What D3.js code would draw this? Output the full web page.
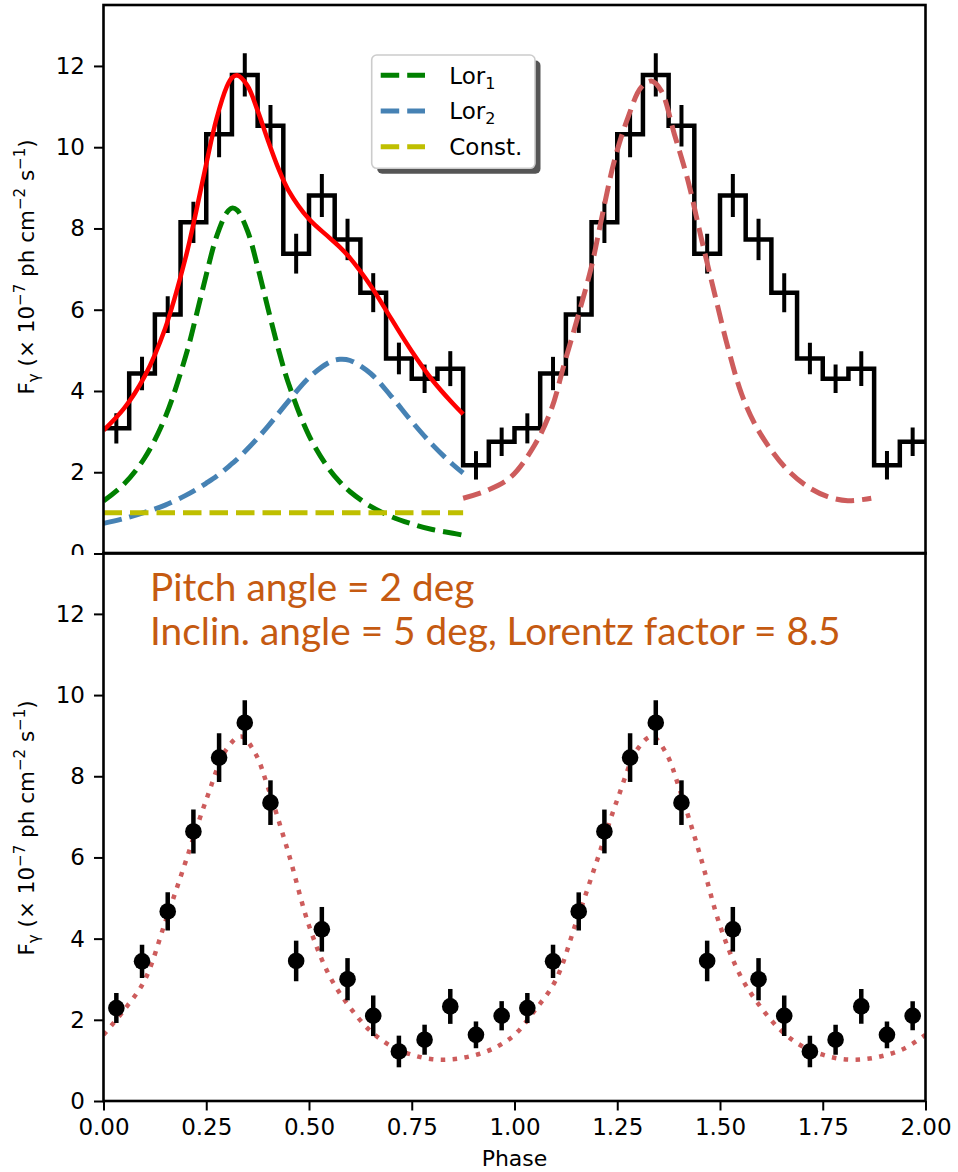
<!DOCTYPE html>
<html>
<head>
<meta charset="utf-8">
<script src="https://cdn.jsdelivr.net/npm/d3@7"></script>
<style>
  body { margin: 0; background: #fff; }
  svg text { font-family: "DejaVu Sans", sans-serif; fill: #000; }
</style>
</head>
<body>
<svg id="chart" width="958" height="1172"></svg>
<script>
// ---------- data ----------
// phase bins (16 per cycle, two cycles shown)
const binWidth = 0.0625;
const binCenters = [
  0.03125, 0.09375, 0.15625, 0.21875, 0.28125, 0.34375, 0.40625, 0.46875,
  0.53125, 0.59375, 0.65625, 0.71875, 0.78125, 0.84375, 0.90625, 0.96875,
  1.03125, 1.09375, 1.15625, 1.21875, 1.28125, 1.34375, 1.40625, 1.46875,
  1.53125, 1.59375, 1.65625, 1.71875, 1.78125, 1.84375, 1.90625, 1.96875
];
// observed light curve (upper panel)
const observedFlux = [
  3.08, 4.43, 5.88, 8.15, 10.32, 11.78, 10.53, 7.38, 8.81, 7.73, 6.42, 4.80, 4.30, 4.55, 2.17, 2.75,
  3.08, 4.43, 5.88, 8.15, 10.32, 11.78, 10.53, 7.38, 8.81, 7.73, 6.42, 4.80, 4.30, 4.55, 2.17, 2.75
];
const observedErr = [
  0.37, 0.41, 0.45, 0.51, 0.57, 0.53, 0.51, 0.49, 0.53, 0.51, 0.48, 0.39, 0.35, 0.43, 0.35, 0.35,
  0.37, 0.41, 0.45, 0.51, 0.57, 0.53, 0.51, 0.49, 0.53, 0.51, 0.48, 0.39, 0.35, 0.43, 0.35, 0.35
];
// simulated light curve (lower panel)
const simulatedFlux = [
  2.29, 3.44, 4.67, 6.64, 8.46, 9.32, 7.35, 3.45, 4.23, 3.00, 2.10, 1.22, 1.51, 2.33, 1.63, 2.10,
  2.29, 3.44, 4.67, 6.64, 8.46, 9.32, 7.35, 3.45, 4.23, 3.00, 2.10, 1.22, 1.51, 2.33, 1.63, 2.10
];
const simulatedErr = [
  0.37, 0.41, 0.47, 0.54, 0.60, 0.55, 0.55, 0.50, 0.55, 0.52, 0.50, 0.39, 0.37, 0.43, 0.33, 0.36,
  0.37, 0.41, 0.47, 0.54, 0.60, 0.55, 0.55, 0.50, 0.55, 0.52, 0.50, 0.39, 0.37, 0.43, 0.33, 0.36
];

// fit components over the first cycle
const fitPhase = [0, 0.05, 0.1, 0.15, 0.2, 0.225, 0.25, 0.275, 0.3, 0.3125, 0.325, 0.35, 0.375,
                  0.4, 0.425, 0.45, 0.5, 0.55, 0.575, 0.6, 0.65, 0.7, 0.75, 0.8, 0.85, 0.875];
const lor1Flux = [1.29, 1.71, 2.35, 3.35, 4.86, 5.83, 6.86, 7.80, 8.39, 8.50, 8.45, 7.95, 7.06,
                  6.04, 5.05, 4.19, 2.90, 2.06, 1.76, 1.52, 1.16, 0.91, 0.73, 0.59, 0.50, 0.45];
const lor2Flux = [0.74, 0.86, 1.01, 1.19, 1.43, 1.57, 1.73, 1.90, 2.10, 2.21, 2.32, 2.57, 2.84,
                  3.13, 3.44, 3.75, 4.33, 4.71, 4.78, 4.75, 4.43, 3.87, 3.25, 2.68, 2.19, 1.98];
const totalFitFlux = [3.03, 3.57, 4.36, 5.54, 7.29, 8.40, 9.59, 10.70, 11.49, 11.71, 11.77, 11.52, 10.90,
                      10.17, 9.49, 8.94, 8.23, 7.77, 7.54, 7.27, 6.59, 5.78, 4.98, 4.27, 3.69, 3.43];
const constPhase = [0, 0.875];
const constFlux = [1.0, 1.0];

// model pulse over the second cycle (upper panel)
const pulsePhase = [0.875, 0.935, 0.992, 1.049, 1.089, 1.122, 1.154, 1.187, 1.211, 1.243, 1.276, 1.308,
                    1.333, 1.357, 1.389, 1.422, 1.454, 1.487, 1.519, 1.552, 1.584, 1.625, 1.665,
                    1.714, 1.762, 1.811, 1.868];
const pulseFlux = [1.36, 1.56, 1.89, 2.67, 3.53, 4.70, 5.82, 7.05, 8.20, 9.67, 10.73, 11.47,
                   11.63, 11.39, 10.32, 9.18, 7.78, 6.39, 5.08, 3.94, 3.20, 2.54, 2.05,
                   1.64, 1.40, 1.30, 1.36];

// model curve (lower panel)
const modelPhase = [0, 0.05, 0.1, 0.15, 0.2, 0.25, 0.3, 0.335, 0.37, 0.4, 0.45, 0.5, 0.55, 0.6, 0.65,
                    0.7, 0.75, 0.8, 0.85, 0.9, 0.95,
                    1.0, 1.05, 1.1, 1.15, 1.2, 1.25, 1.3, 1.335, 1.37, 1.4, 1.45, 1.5, 1.55, 1.6, 1.65,
                    1.7, 1.75, 1.8, 1.85, 1.9, 1.95, 2.0];
const modelFlux = [1.63, 2.24, 2.97, 4.40, 5.90, 7.42, 8.68, 8.98, 8.55, 7.73, 6.11, 4.32, 3.08, 2.30, 1.72,
                   1.35, 1.14, 1.03, 1.03, 1.12, 1.30,
                   1.63, 2.24, 2.97, 4.40, 5.90, 7.42, 8.68, 8.98, 8.55, 7.73, 6.11, 4.32, 3.08, 2.30, 1.72,
                   1.35, 1.14, 1.03, 1.03, 1.12, 1.30, 1.63];

const xTicks = [0, 0.25, 0.5, 0.75, 1.0, 1.25, 1.5, 1.75, 2.0];
const yTicks = [0, 2, 4, 6, 8, 10, 12];

const legendItems = [
  { base: "Lor", sub: "1", color: "#008000" },
  { base: "Lor", sub: "2", color: "#4682b4" },
  { base: "Const.", sub: "", color: "#bfbf00" }
];
const annotationLines = ["Pitch angle = 2 deg", "Inclin. angle = 5 deg, Lorentz factor = 8.5"];

// ---------- layout ----------
const svg = d3.select("#chart");
const left = 103.5, right = 925.5;
const x = d3.scaleLinear().domain([0, 2]).range([left, right]);
const yTop = d3.scaleLinear().domain([0, 13.5]).range([553.5, 5]);
const yBot = d3.scaleLinear().domain([0, 13.5]).range([1101, 553]);

const DASH = "18.5 8";
const DOT = "4.5 7.4";

function styleAxis(g) {
  g.select(".domain").remove();
  g.selectAll(".tick line").attr("stroke", "#000").attr("stroke-width", 2);
  g.selectAll(".tick text").style("font-size", "23px").attr("fill", "#000");
}

function yLabel(g, cy) {
  const t = g.append("text")
    .attr("transform", `translate(34,${cy}) rotate(-90)`)
    .attr("text-anchor", "middle")
    .style("font-size", "21.5px");
  t.append("tspan").text("F");
  t.append("tspan").attr("dy", 5).style("font-size", "15px").text("γ");
  t.append("tspan").attr("dy", -5).text(" (× 10");
  t.append("tspan").attr("dy", -9).style("font-size", "15px").text("−7");
  t.append("tspan").attr("dy", 9).text(" ph cm");
  t.append("tspan").attr("dy", -9).style("font-size", "15px").text("−2");
  t.append("tspan").attr("dy", 9).text(" s");
  t.append("tspan").attr("dy", -9).style("font-size", "15px").text("−1");
  t.append("tspan").attr("dy", 9).text(")");
}

const line = (sx, sy) => d3.line().x(d => sx(d[0])).y(d => sy(d[1])).curve(d3.curveCatmullRom.alpha(0.5));
const zip = (a, b) => a.map((v, i) => [v, b[i]]);

// ---------- upper panel ----------
const upper = svg.append("g");
upper.append("clipPath").attr("id", "clipTop")
  .append("rect").attr("x", left).attr("y", yTop(13.5)).attr("width", right - left).attr("height", yTop(0) - yTop(13.5));

upper.append("g").attr("transform", `translate(${left},0)`)
  .call(d3.axisLeft(yTop).tickValues(yTicks).tickSize(9.5).tickPadding(9).tickFormat(d3.format("d")))
  .call(styleAxis);
yLabel(upper, 267);

const plotTop = upper.append("g").attr("clip-path", "url(#clipTop)");

// histogram of the observed light curve
const stepPts = binCenters.map((c, i) => [c - binWidth / 2, observedFlux[i]]);
stepPts.push([binCenters[binCenters.length - 1] + binWidth / 2, observedFlux[observedFlux.length - 1]]);
plotTop.append("path")
  .attr("d", d3.line().x(d => x(d[0])).y(d => yTop(d[1])).curve(d3.curveStepAfter)(stepPts))
  .attr("fill", "none").attr("stroke", "#000").attr("stroke-width", 4.5).attr("stroke-linejoin", "miter");
plotTop.selectAll("line.err").data(binCenters).join("line")
  .attr("class", "err")
  .attr("x1", d => x(d)).attr("x2", d => x(d))
  .attr("y1", (d, i) => yTop(observedFlux[i] - observedErr[i]))
  .attr("y2", (d, i) => yTop(observedFlux[i] + observedErr[i]))
  .attr("stroke", "#000").attr("stroke-width", 4);

// fit components
const lTop = line(x, yTop);
plotTop.append("path").attr("d", lTop(zip(fitPhase, lor1Flux)))
  .attr("fill", "none").attr("stroke", "#008000").attr("stroke-width", 5).attr("stroke-dasharray", DASH);
plotTop.append("path").attr("d", lTop(zip(fitPhase, lor2Flux)))
  .attr("fill", "none").attr("stroke", "#4682b4").attr("stroke-width", 5).attr("stroke-dasharray", DASH);
plotTop.append("path").attr("d", d3.line().x(d => x(d[0])).y(d => yTop(d[1]))(zip(constPhase, constFlux)))
  .attr("fill", "none").attr("stroke", "#bfbf00").attr("stroke-width", 5).attr("stroke-dasharray", DASH);
plotTop.append("path").attr("d", lTop(zip(fitPhase, totalFitFlux)))
  .attr("fill", "none").attr("stroke", "#ff0000").attr("stroke-width", 4.5);
plotTop.append("path").attr("d", lTop(zip(pulsePhase, pulseFlux)))
  .attr("fill", "none").attr("stroke", "#cd5c5c").attr("stroke-width", 5).attr("stroke-dasharray", DASH);

upper.append("rect").attr("x", left).attr("y", yTop(13.5)).attr("width", right - left).attr("height", yTop(0) - yTop(13.5))
  .attr("fill", "none").attr("stroke", "#000").attr("stroke-width", 2.6);

// legend
const lg = upper.append("g").attr("transform", "translate(371.7,55)");
lg.append("rect").attr("x", 5.5).attr("y", 5.5).attr("width", 163.3).attr("height", 113.3).attr("rx", 5)
  .attr("fill", "#555");
lg.append("rect").attr("x", 0).attr("y", 0).attr("width", 163.3).attr("height", 113.3).attr("rx", 5)
  .attr("fill", "#fff").attr("stroke", "#cccccc").attr("stroke-width", 1.6);
legendItems.forEach((it, i) => {
  const cy = 20.3 + i * 35.7;
  lg.append("line").attr("x1", 9).attr("x2", 53.3).attr("y1", cy).attr("y2", cy)
    .attr("stroke", it.color).attr("stroke-width", 5).attr("stroke-dasharray", DASH);
  const t = lg.append("text").attr("x", 77.6).attr("y", cy + 8.2).style("font-size", "23px");
  t.append("tspan").text(it.base);
  if (it.sub) t.append("tspan").attr("dy", 5).style("font-size", "16px").text(it.sub);
});

// ---------- lower panel (overlaps the upper panel's x axis) ----------
const lower = svg.append("g");
lower.append("rect").attr("x", 0).attr("y", 555).attr("width", 958).attr("height", 617).attr("fill", "#fff");
lower.append("clipPath").attr("id", "clipBot")
  .append("rect").attr("x", left).attr("y", yBot(13.5)).attr("width", right - left).attr("height", yBot(0) - yBot(13.5));

lower.append("g").attr("transform", `translate(${left},0)`)
  .call(d3.axisLeft(yBot).tickValues(yTicks).tickSize(9.5).tickPadding(9).tickFormat(d3.format("d")))
  .call(styleAxis);
lower.append("g").attr("transform", `translate(0,${yBot(0)})`)
  .call(d3.axisBottom(x).tickValues(xTicks).tickSize(9.5).tickPadding(8).tickFormat(d3.format(".2f")))
  .call(styleAxis);
yLabel(lower, 828);
lower.append("text").attr("x", (left + right) / 2).attr("y", 1166).attr("text-anchor", "middle")
  .style("font-size", "22px").text("Phase");

const plotBot = lower.append("g").attr("clip-path", "url(#clipBot)");
plotBot.append("path").attr("d", line(x, yBot)(zip(modelPhase, modelFlux)))
  .attr("fill", "none").attr("stroke", "#cd5c5c").attr("stroke-width", 4.5).attr("stroke-dasharray", DOT);
plotBot.selectAll("line.err").data(binCenters).join("line")
  .attr("class", "err")
  .attr("x1", d => x(d)).attr("x2", d => x(d))
  .attr("y1", (d, i) => yBot(simulatedFlux[i] - simulatedErr[i]))
  .attr("y2", (d, i) => yBot(simulatedFlux[i] + simulatedErr[i]))
  .attr("stroke", "#000").attr("stroke-width", 4.5);
plotBot.selectAll("circle").data(binCenters).join("circle")
  .attr("cx", d => x(d)).attr("cy", (d, i) => yBot(simulatedFlux[i])).attr("r", 8.3).attr("fill", "#000");

lower.append("rect").attr("x", left).attr("y", yBot(13.5)).attr("width", right - left).attr("height", yBot(0) - yBot(13.5))
  .attr("fill", "none").attr("stroke", "#000").attr("stroke-width", 2.6);

// annotation
const ann = lower.append("g");
const annText = annotationLines.map((s, i) =>
  ann.append("text").attr("x", 150).attr("y", 601 + i * 44)
    .style("font-family", "Lato, 'Open Sans', sans-serif").style("font-size", "34px")
    .style("fill", "#C55A11").text(s));
const w = annText[1].node().getComputedTextLength();
const fs = 34 * 691 / w;
annText.forEach(t => t.style("font-size", fs + "px"));
</script>
</body>
</html>
